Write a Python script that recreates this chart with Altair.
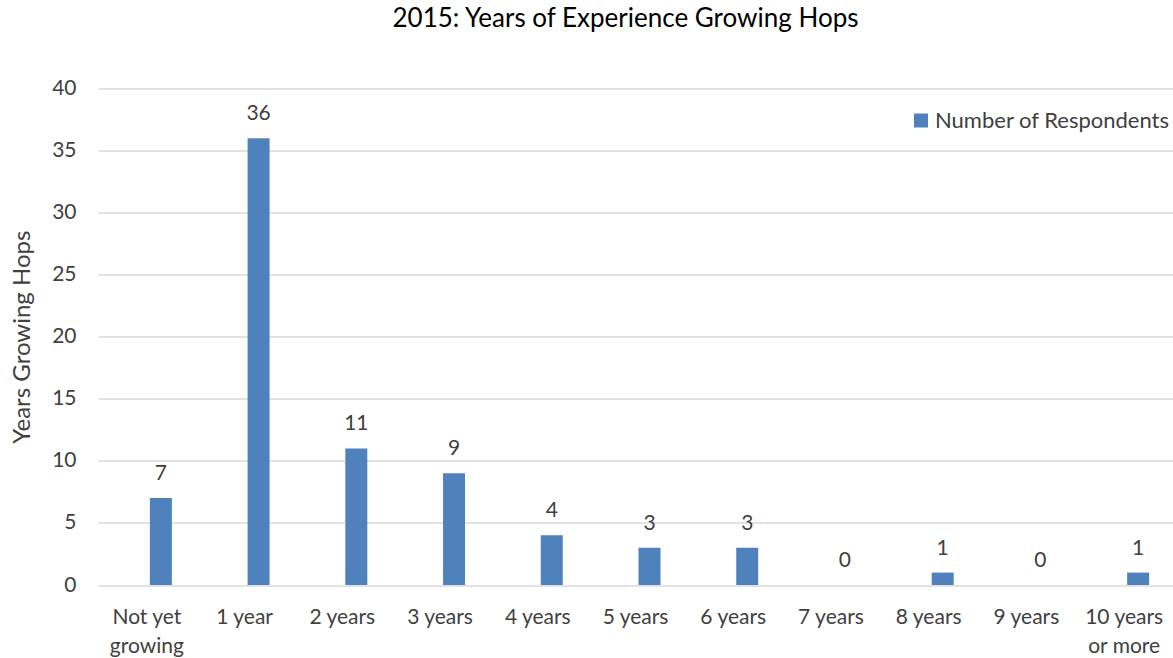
import altair as alt
import pandas as pd

# Survey responses: years of hop-growing experience
categories = [
    "Not yet|growing", "1 year", "2 years", "3 years", "4 years", "5 years",
    "6 years", "7 years", "8 years", "9 years", "10 years|or more",
]
respondents = [7, 36, 11, 9, 4, 3, 3, 0, 1, 0, 1]
series_name = "Number of Respondents"

df = pd.DataFrame({
    "category": categories,
    "count": respondents,
    "series": [series_name] * len(categories),
})

FONT = "Lato"
TEXT = "#404040"
BAR = "#4F81BD"
GRID = "#D9D9D9"

x_enc = alt.X(
    "category:N",
    sort=categories,
    scale=alt.Scale(paddingInner=0, paddingOuter=0),
    axis=alt.Axis(
        title=None, domain=False, ticks=False, labelAngle=0,
        labelExpr="split(datum.label, '|')",
        labelFont=FONT, labelFontSize=21, labelColor=TEXT,
        labelPadding=32, labelLineHeight=29, labelBaseline="middle",
    ),
)
y_enc = alt.Y(
    "count:Q",
    scale=alt.Scale(domain=[0, 40], nice=False),
    axis=alt.Axis(
        title="Years Growing Hops", values=list(range(0, 41, 5)),
        domain=False, ticks=False, grid=True,
        gridColor=GRID, gridWidth=1.5,
        labelFont=FONT, labelFontSize=21, labelColor=TEXT, labelPadding=22,
        titleFont=FONT, titleFontSize=24, titleFontWeight="normal",
        titleColor=TEXT, titlePadding=17,
    ),
)

bars = alt.Chart(df).mark_bar(width=22, xOffset=14).encode(
    x=x_enc,
    y=y_enc,
    color=alt.Color(
        "series:N",
        scale=alt.Scale(range=[BAR]),
        legend=alt.Legend(
            title=None, orient="none", legendX=812, legendY=21,
            symbolType="square", symbolSize=196, symbolStrokeWidth=0,
            labelFont=FONT, labelFontSize=22, labelColor=TEXT,
            labelOffset=3, labelLimit=400, padding=0,
        ),
    ),
)

labels = alt.Chart(df).mark_text(
    xOffset=14, dy=-14, baseline="bottom",
    font=FONT, fontSize=21, color=TEXT,
).encode(
    x=alt.X("category:N", sort=categories),
    y=alt.Y("count:Q"),
    text=alt.Text("count:Q"),
)

chart = (
    alt.layer(bars, labels)
    .properties(
        width=1075,
        height=496.5,
        title=alt.TitleParams(
            "2015: Years of Experience Growing Hops",
            font=FONT, fontSize=26, fontWeight="normal", color="#000000",
            anchor="middle", offset=46, dx=-10,
        ),
        autosize=alt.AutoSizeParams(type="none"),
        padding={"left": 98, "top": 88.5, "right": 0, "bottom": 73},
    )
    .configure_view(stroke=None)
)

chart.save("out.html", embed_options={"renderer": "svg", "actions": False})
